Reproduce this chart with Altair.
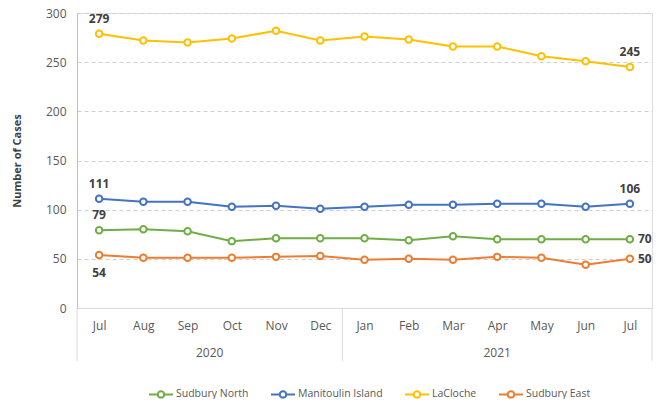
import altair as alt
import pandas as pd

months = ["Jul", "Aug", "Sep", "Oct", "Nov", "Dec", "Jan", "Feb", "Mar", "Apr", "May", "Jun", "Jul"]
years = ["2020"] * 6 + ["2021"] * 7
series_names = ["Sudbury North", "Manitoulin Island", "LaCloche", "Sudbury East"]
sudbury_north = [79, 80, 78, 68, 71, 71, 71, 69, 73, 70, 70, 70, 70]
manitoulin_island = [111, 108, 108, 103, 104, 101, 103, 105, 105, 106, 106, 103, 106]
lacloche = [279, 272, 270, 274, 282, 272, 276, 273, 266, 266, 256, 251, 245]
sudbury_east = [54, 51, 51, 51, 52, 53, 49, 50, 49, 52, 51, 44, 50]
colors = ["#70AD47", "#4472C4", "#FFC000", "#ED7D31"]

rows = []
for name, vals in zip(series_names, [sudbury_north, manitoulin_island, lacloche, sudbury_east]):
    for i, v in enumerate(vals):
        rows.append({"series": name, "idx": i, "value": v})
df = pd.DataFrame(rows)

# year groups (centres and boundaries derived from the years list)
year_rows = []
bounds = [-0.5]
for y in sorted(set(years)):
    ids = [i for i, yy in enumerate(years) if yy == y]
    year_rows.append({"year": y, "center": (ids[0] + ids[-1]) / 2})
    bounds.append(ids[-1] + 0.5)
ydf = pd.DataFrame(year_rows)
bdf = pd.DataFrame({"pos": bounds})

W, H = 575, 295
FONT = "Open Sans"
last = len(months) - 1

label_expr = "[" + ",".join("'%s'" % m for m in months) + "][datum.value]"

xscale = alt.Scale(domain=[-0.5, last + 0.5], nice=False, zero=False)
x = alt.X("idx:Q", scale=xscale,
          axis=alt.Axis(values=list(range(len(months))), labelExpr=label_expr, ticks=False,
                        grid=False, domainColor="#d9d9d9", domainWidth=1, labelColor="#595959",
                        labelFontSize=12, labelPadding=12, title=None, labelFont=FONT))
y = alt.Y("value:Q", scale=alt.Scale(domain=[0, 300], nice=False),
          axis=alt.Axis(values=[0, 50, 100, 150, 200, 250, 300], grid=True, gridDash=[4, 3],
                        gridColor="#d0d0d0", domainColor="#bfbfbf", ticks=False, labelPadding=11,
                        labelColor="#595959", labelFontSize=12, labelFont=FONT,
                        title="Number of Cases", titleX=-60, titleY=H / 2, titleAngle=-90,
                        titleAlign="center", titleBaseline="middle", titleFontSize=11,
                        titleFontWeight="bold", titleColor="#404040", titleFont=FONT))

legend_symbol = ("M-1,0L-0.27,0M0.27,0L1,0M-0.27,0A0.27,0.27 0 1,0 0.27,0"
                 "A0.27,0.27 0 1,0 -0.27,0Z")
color = alt.Color("series:N", scale=alt.Scale(domain=series_names, range=colors),
                  legend=alt.Legend(orient="none", legendX=71, legendY=368, direction="horizontal",
                                    title=None, symbolType=legend_symbol, symbolSize=576,
                                    symbolStrokeWidth=2, symbolFillColor="white",
                                    labelFontSize=10.5, labelColor="#595959", labelFont=FONT,
                                    columnPadding=18, labelOffset=2))

base = alt.Chart(df)
lines = base.mark_line(strokeWidth=2).encode(x=x, y=y, color=color)
points = base.mark_point(filled=True, fill="white", size=42, strokeWidth=2, opacity=1).encode(
    x=x, y=y, stroke=alt.Stroke("series:N", scale=alt.Scale(domain=series_names, range=colors),
                                legend=None))

def labels(pairs, **kw):
    flt = " || ".join("(datum.series == '%s' && datum.idx == %d)" % p for p in pairs)
    return base.transform_filter(flt).mark_text(fontSize=12, fontWeight="bold", color="#404040",
                                                font=FONT, **kw).encode(
        x=x, y=y, text="value:Q")

above = labels([("LaCloche", 0), ("Manitoulin Island", 0), ("Sudbury North", 0),
                ("LaCloche", last), ("Manitoulin Island", last)], dy=-15, baseline="middle")
below = labels([("Sudbury East", 0)], dy=18, baseline="middle")
right = labels([("Sudbury North", last), ("Sudbury East", last)], dx=8, align="left",
               baseline="middle")

seps = alt.Chart(bdf).mark_rule(color="#d9d9d9", strokeWidth=1).encode(
    x=alt.X("pos:Q", scale=xscale), y=alt.value(H), y2=alt.value(H + 53))
year_text = alt.Chart(ydf).mark_text(fontSize=12, color="#595959", font=FONT,
                                     baseline="middle").encode(
    x=alt.X("center:Q", scale=xscale), y=alt.value(H + 45), text="year:N")

chart = alt.layer(seps, year_text, lines, points, above, below, right).properties(
    width=W, height=H,
    padding={"left": 69, "top": 5, "right": 4, "bottom": 91},
    autosize=alt.AutoSizeParams(type="none"),
).configure_view(stroke=None).configure(font=FONT)

chart.save("out.html", embed_options={"renderer": "svg", "actions": False})
